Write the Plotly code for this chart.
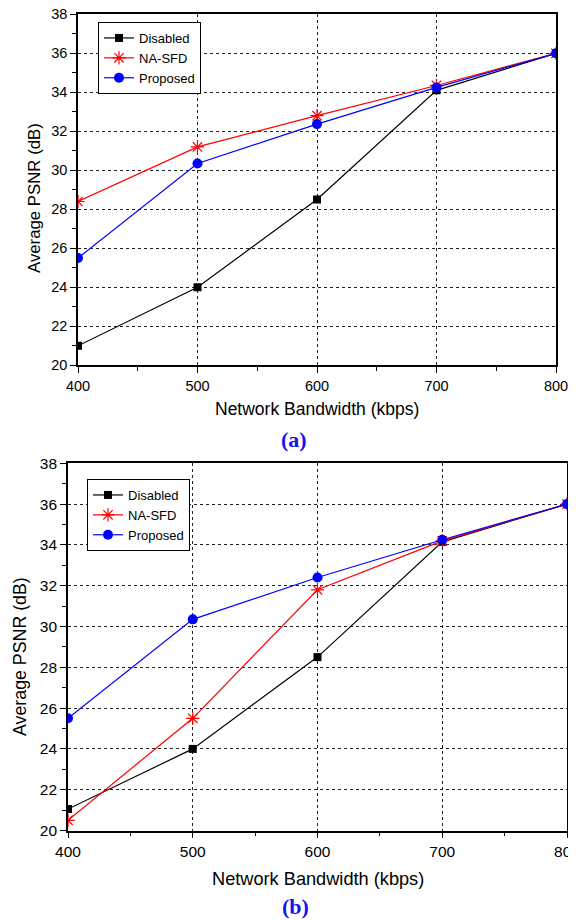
import plotly.graph_objects as go

# Browser body margin offsets the figure by 8px; size the figure to fill the rest
OFF = 8
W, H = 576 - OFF, 920 - OFF

bandwidth = [400, 500, 600, 700, 800]
series_names = ["Disabled", "NA-SFD", "Proposed"]

a_disabled = [21.0, 24.0, 28.5, 34.1, 36.0]
a_nasfd = [28.4, 31.2, 32.8, 34.35, 36.0]
a_proposed = [25.5, 30.35, 32.37, 34.25, 36.0]

b_disabled = [21.05, 24.0, 28.5, 34.15, 36.0]
b_nasfd = [20.5, 25.5, 31.8, 34.2, 36.0]
b_proposed = [25.5, 30.35, 32.4, 34.25, 36.0]

x_ticks = [400, 500, 600, 700, 800]
y_ticks = [20, 22, 24, 26, 28, 30, 32, 34, 36, 38]

FONT = "Arial, Liberation Sans, sans-serif"


def fx(px):
    return (px - OFF) / W


def fy(py):
    return 1 - (py - OFF) / H


styles = {
    "Disabled": dict(color="#000000", symbol="square", size=8, lw=0),
    "NA-SFD": dict(color="#FF0000", symbol="asterisk-open", size=11, lw=1.2),
    "Proposed": dict(color="#0000FF", symbol="circle", size=10, lw=0),
}

fig = go.Figure()


def add_panel(vals, xa, ya, legend):
    for name, y in zip(series_names, vals):
        s = styles[name]
        fig.add_trace(go.Scatter(
            x=bandwidth, y=y, name=name, mode="lines+markers",
            xaxis=xa, yaxis=ya, legend=legend,
            line=dict(color=s["color"], width=1.2),
            marker=dict(symbol=s["symbol"], size=s["size"], color=s["color"],
                        line=dict(color=s["color"], width=s["lw"])),
        ))


add_panel([a_disabled, a_nasfd, a_proposed], "x", "y", "legend")
add_panel([b_disabled, b_nasfd, b_proposed], "x2", "y2", "legend2")


def xaxis_cfg(domain, anchor, size):
    return dict(
        domain=domain, anchor=anchor, range=[400, 800], tickvals=x_ticks,
        ticks="outside", ticklen=6, tickwidth=1.2, tickcolor="black",
        showline=True, linecolor="black", linewidth=1.6, mirror=True,
        showgrid=True, gridcolor="#222", griddash="dot", gridwidth=1,
        zeroline=False, tickfont=dict(family=FONT, size=size, color="black"),
        minor=dict(dtick=50, ticks="outside", ticklen=4, tickcolor="black", showgrid=False),
        automargin=False, ticklabeloverflow="allow",
    )


def yaxis_cfg(domain, anchor, size):
    return dict(
        domain=domain, anchor=anchor, range=[20, 38], tickvals=y_ticks,
        ticks="outside", ticklen=6, tickwidth=1.2, tickcolor="black",
        showline=True, linecolor="black", linewidth=1.6, mirror=True,
        showgrid=True, gridcolor="#222", griddash="dot", gridwidth=1,
        zeroline=False, tickfont=dict(family=FONT, size=size, color="black"),
        minor=dict(dtick=1, ticks="outside", ticklen=4, tickcolor="black", showgrid=False),
        automargin=False, ticklabeloverflow="allow",
    )


def mirror_x(over, anchor):
    return dict(overlaying=over, anchor=anchor, side="top", range=[400, 800],
                tickvals=x_ticks, ticks="inside", ticklen=5, tickcolor="black",
                showticklabels=False, showgrid=False, zeroline=False, showline=False,
                minor=dict(dtick=50, ticks="inside", ticklen=4, tickcolor="black"))


def mirror_y(over, anchor):
    return dict(overlaying=over, anchor=anchor, side="right", range=[20, 38],
                tickvals=y_ticks, ticks="inside", ticklen=5, tickcolor="black",
                showticklabels=False, showgrid=False, zeroline=False, showline=False,
                minor=dict(dtick=1, ticks="inside", ticklen=4, tickcolor="black"))


legend_common = dict(
    bgcolor="white", bordercolor="black", borderwidth=1,
    font=dict(family=FONT, size=13, color="black"),
    xanchor="left", yanchor="top", tracegroupgap=0, itemwidth=30,
)

fig.update_layout(
    width=W, height=H,
    margin=dict(l=0, r=0, t=0, b=0),
    paper_bgcolor="white", plot_bgcolor="white",
    xaxis=xaxis_cfg([fx(78), fx(556)], "y", 14.5),
    yaxis=yaxis_cfg([fy(365.3), fy(14.3)], "x", 14.5),
    xaxis2=xaxis_cfg([fx(68), fx(567)], "y2", 15.5),
    yaxis2=yaxis_cfg([fy(830.5), fy(463.3)], "x2", 15.5),
    xaxis3=mirror_x("x", "y"),
    yaxis3=mirror_y("y", "x"),
    xaxis4=mirror_x("x2", "y2"),
    yaxis4=mirror_y("y2", "x2"),
    legend=dict(x=fx(98), y=fy(22), **legend_common),
    legend2=dict(x=fx(87), y=fy(479), **legend_common),
    showlegend=True,
)

annotations = [
    dict(text="Network Bandwidth (kbps)", x=fx(317), y=fy(409), size=17.5, angle=0, color="black", fam=FONT),
    dict(text="Network Bandwidth (kbps)", x=fx(318), y=fy(879), size=18.2, angle=0, color="black", fam=FONT),
    dict(text="Average PSNR (dB)", x=fx(34), y=fy(198), size=16.8, angle=-90, color="black", fam=FONT),
    dict(text="Average PSNR (dB)", x=fx(20), y=fy(657), size=17.8, angle=-90, color="black", fam=FONT),
    dict(text="<b>(a)</b>", x=fx(294), y=fy(439), size=22, angle=0, color="#1414F0",
         fam="Times New Roman, Liberation Serif, serif"),
    dict(text="<b>(b)</b>", x=fx(295), y=fy(906), size=22, angle=0, color="#1414F0",
         fam="Times New Roman, Liberation Serif, serif"),
]
for a in annotations:
    fig.add_annotation(
        text=a["text"], x=a["x"], y=a["y"], xref="paper", yref="paper",
        xanchor="center", yanchor="middle", showarrow=False, textangle=a["angle"],
        font=dict(family=a["fam"], size=a["size"], color=a["color"]),
    )

fig.write_html("out.html")
